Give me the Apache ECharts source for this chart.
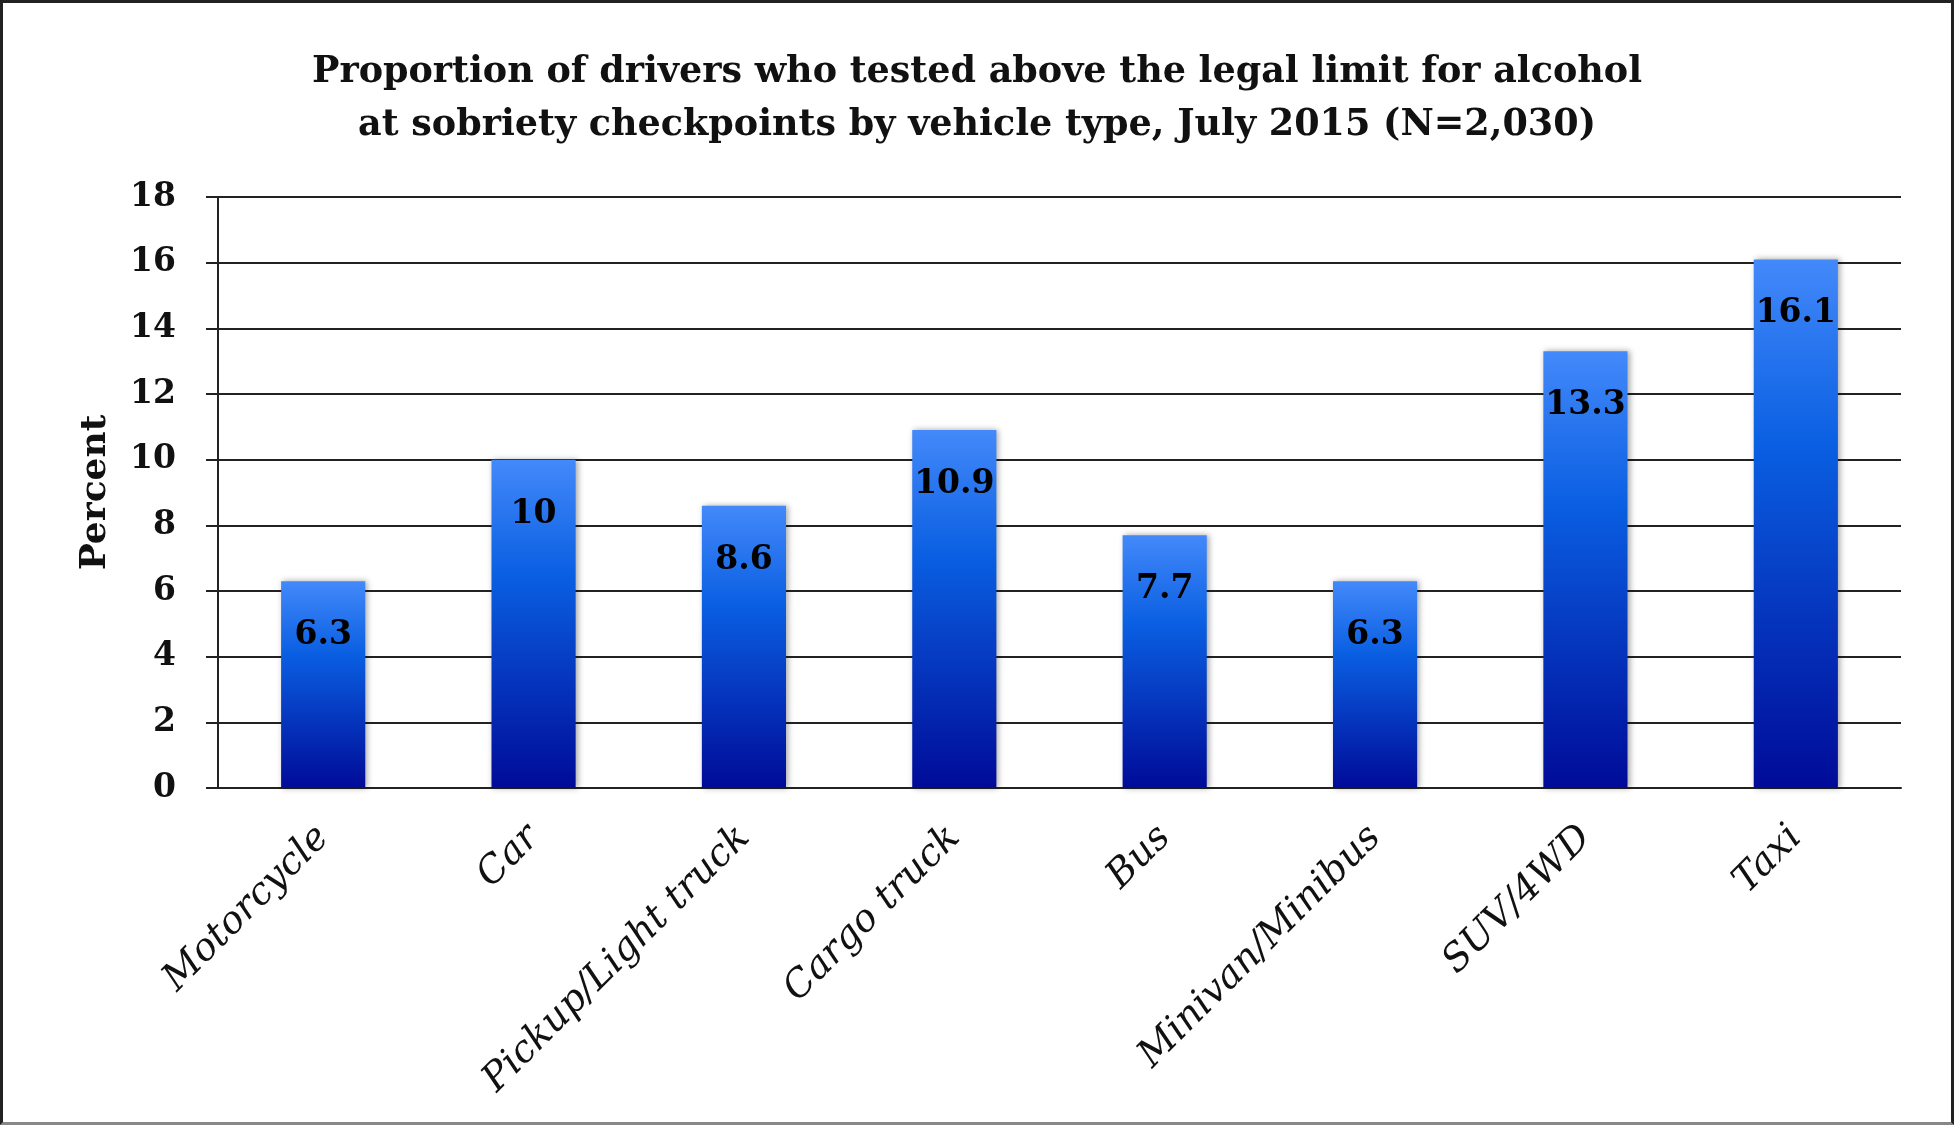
<!DOCTYPE html>
<html>
<head>
<meta charset="utf-8">
<script src="https://cdn.jsdelivr.net/npm/echarts@6/dist/echarts.min.js"></script>
<style>
html,body{margin:0;padding:0;background:#fff;}
#chart{width:1954px;height:1125px;box-sizing:border-box;border:3px solid #222;border-bottom-color:#888;}
</style>
</head>
<body>
<div id="chart"></div>
<script>
const categories = ["Motorcycle","Car","Pickup/Light truck","Cargo truck","Bus","Minivan/Minibus","SUV/4WD","Taxi"];
const values = [6.3, 10, 8.6, 10.9, 7.7, 6.3, 13.3, 16.1];
const titleLines = ["Proportion of drivers who tested above the legal limit for alcohol","at sobriety checkpoints by vehicle type, July 2015 (N=2,030)"];
const yTicks = {min:0, max:18, interval:2};

const chart = echarts.init(document.getElementById('chart'), null, {renderer:'canvas'});
chart.setOption({
  backgroundColor:'#fff',
  animation:false,
  title:{
    text: titleLines.join('\n'),
    left:'center', top:38,
    textStyle:{fontFamily:'DejaVu Serif', fontWeight:'bold', fontSize:36.5, lineHeight:53, color:'#111'}
  },
  grid:{left:215, right:50, top:194, bottom:334, containLabel:false},
  xAxis:{
    type:'category', data:categories,
    axisLine:{show:true, lineStyle:{color:'#222', width:2}},
    axisTick:{show:false},
    axisLabel:{rotate:45, margin:44, interval:0, fontFamily:'DejaVu Serif', fontStyle:'italic', fontSize:38, color:'#111'}
  },
  yAxis:{
    type:'value', min:yTicks.min, max:yTicks.max, interval:yTicks.interval,
    name:'Percent', nameLocation:'middle', nameRotate:90, nameGap:104,
    nameTextStyle:{fontFamily:'DejaVu Serif', fontWeight:'bold', fontSize:36, color:'#111'},
    axisLine:{show:true, lineStyle:{color:'#222', width:2}},
    axisTick:{show:true, length:12, lineStyle:{color:'#222', width:2}},
    splitLine:{show:true, lineStyle:{color:'#222', width:2}},
    axisLabel:{margin:42, padding:[10,0,0,0], fontFamily:'DejaVu Serif', fontWeight:'bold', fontSize:33, color:'#111'}
  },
  series:[{
    type:'bar', data:values, barWidth:'40%',
    itemStyle:{
      color:new echarts.graphic.LinearGradient(0,0,0,1,[
        {offset:0, color:'#4389fa'},
        {offset:0.35, color:'#0a5fe2'},
        {offset:1, color:'#000b98'}
      ]),
      shadowColor:'rgba(0,0,0,0.35)', shadowBlur:6, shadowOffsetX:2, shadowOffsetY:0
    },
    label:{show:true, position:'insideTop', distance:38, fontFamily:'DejaVu Serif', fontWeight:'bold', fontSize:33, color:'#000'}
  }]
});
</script>
</body>
</html>
